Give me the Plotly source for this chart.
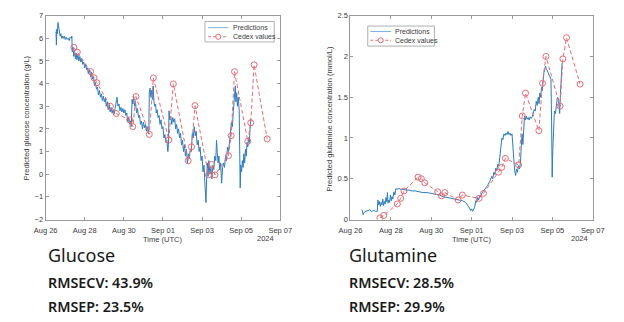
import pandas as pd
import plotly.graph_objects as go

BASE = pd.Timestamp("2024-08-26")

# ---------------- Glucose (g/L) ----------------
glc_pred_day = [0.53, 0.55, 0.57, 0.60, 0.63, 0.66, 0.70, 0.74, 0.78, 0.82, 0.86, 0.90, 0.95, 1.00, 1.05, 1.10,
                1.15, 1.20, 1.25, 1.30, 1.34, 1.36, 1.40, 1.44, 1.48, 1.52, 1.56, 1.60, 1.65, 1.70, 1.75, 1.80,
                1.85, 1.90, 1.95, 2.00, 2.05, 2.10, 2.15, 2.20, 2.25, 2.30, 2.35, 2.40, 2.45, 2.50, 2.55, 2.60,
                2.65, 2.70, 2.75, 2.80, 2.85, 2.90, 2.95, 3.00, 3.05, 3.10, 3.15, 3.20, 3.25, 3.30, 3.35, 3.40,
                3.45, 3.50, 3.55, 3.60, 3.65, 3.70, 3.75, 3.80, 3.85, 3.90, 3.95, 4.00, 4.05, 4.10, 4.15, 4.20,
                4.25, 4.30, 4.35, 4.38, 4.42, 4.46, 4.50, 4.55, 4.60, 4.65, 4.70, 4.75, 4.80, 4.85, 4.90, 4.95,
                5.00, 5.05, 5.10, 5.15, 5.20, 5.25, 5.28, 5.30, 5.34, 5.38, 5.42, 5.46, 5.50, 5.54, 5.58, 5.62,
                5.66, 5.70, 5.75, 5.80, 5.85, 5.90, 5.95, 6.00, 6.05, 6.10, 6.15, 6.20, 6.25, 6.28, 6.31, 6.35,
                6.40, 6.45, 6.50, 6.55, 6.60, 6.65, 6.70, 6.75, 6.80, 6.85, 6.90, 6.95, 7.00, 7.05, 7.10, 7.15,
                7.20, 7.25, 7.30, 7.35, 7.40, 7.45, 7.50, 7.55, 7.60, 7.65, 7.70, 7.75, 7.80, 7.85, 7.90, 7.95,
                8.00, 8.05, 8.10, 8.15, 8.20, 8.23, 8.27, 8.31, 8.35, 8.40, 8.45, 8.50, 8.55, 8.60, 8.65, 8.70,
                8.74, 8.78, 8.82, 8.86, 8.90, 8.95, 9.00, 9.05, 9.10, 9.15, 9.20, 9.25, 9.30, 9.35, 9.40, 9.45,
                9.50, 9.55, 9.60, 9.65, 9.70, 9.73, 9.77, 9.81, 9.85, 9.90, 9.93, 9.95, 9.98, 10.02, 10.06, 10.10,
                10.14, 10.18, 10.22, 10.26, 10.30, 10.34, 10.38, 10.42, 10.46, 10.49]
glc_pred_val = [6.3, 5.7, 6.4, 6.2, 6.7, 6.5, 6.3, 6.1, 6.2, 6.0, 6.1, 6.0, 6.1, 5.95, 6.05, 5.95,
                6.0, 5.9, 6.05, 6.0, 6.1, 5.4, 5.6, 5.2, 5.45, 5.1, 5.35, 5.05, 5.3, 5.0, 5.2, 4.95,
                5.1, 4.85, 4.95, 4.7, 4.85, 4.6, 4.7, 4.45, 4.6, 4.3, 4.5, 4.2, 4.3, 3.9, 4.05, 3.75,
                3.85, 3.5, 3.7, 3.4, 3.55, 3.25, 3.45, 3.2, 3.35, 3.0, 3.2, 2.85, 3.05, 2.75, 2.95, 2.7,
                2.85, 2.65, 2.9, 3.2, 3.4, 3.0, 3.1, 2.8, 2.95, 2.75, 2.9, 2.7, 2.85, 2.6, 2.7, 2.3,
                2.5, 2.2, 2.35, 2.1, 3.3, 3.1, 3.45, 3.0, 3.15, 2.7, 2.9, 2.5, 2.6, 2.2, 2.35, 2.0,
                2.3, 2.05, 2.2, 1.9, 2.1, 1.8, 2.0, 3.6, 3.8, 3.4, 3.7, 3.3, 3.9, 3.2, 3.0, 3.1,
                2.7, 2.85, 2.5, 2.6, 2.2, 2.4, 2.0, 2.1, 1.6, 1.75, 1.4, 1.5, 1.0, 1.3, 2.8, 2.4,
                2.55, 2.2, 2.5, 2.3, 2.45, 2.0, 2.2, 1.8, 2.0, 1.6, 1.8, 1.3, 1.5, 1.0, 1.3, 0.8,
                1.1, 0.5, 0.9, 0.7, 1.1, 1.0, 1.8, 1.6, 2.1, 1.7, 1.9, 1.3, 1.5, 1.0, 1.2, 0.6,
                0.8, 0.1, 0.4, -0.5, -1.25, -0.3, 0.5, -0.1, 0.6, 0.0, 0.3, -0.2, 0.4, 0.2, 0.8, 0.6,
                1.5, 0.9, 0.5, 0.8, 0.2, 0.5, -0.4, 0.3, 0.5, 0.3, 0.8, 0.6, 1.2, 1.0, 1.6, 1.8,
                2.3, 2.1, 2.8, 3.4, 3.9, 3.2, 3.6, 3.0, 3.4, 2.8, 1.0, -0.6, 0.4, 0.1, 0.6, 0.3,
                0.9, 0.5, 1.1, 0.8, 1.4, 1.2, 1.6, 1.4, 2.1, 2.45]
glc_cedex_day = [1.44, 1.62, 2.30, 2.47, 2.62, 3.31, 3.61, 4.30, 4.46, 4.62, 5.30, 5.51, 6.30, 6.53,
                 7.29, 7.46, 7.64, 8.33, 8.49, 8.66, 9.35, 9.49, 9.66, 10.34, 10.49, 10.66, 11.33]
glc_cedex_val = [5.60, 5.39, 4.53, 4.26, 4.04, 3.00, 2.68, 2.40, 2.10, 3.43, 1.76, 4.25, 1.51, 3.99,
                 0.59, 1.21, 3.03, -0.03, 0.43, -0.03, 0.82, 1.70, 4.53, 1.45, 2.27, 4.83, 1.56]

# ---------------- Glutamine (mmol/L) ----------------
gln_pred_day = [0.57, 0.60, 0.63, 0.68, 0.75, 0.85, 0.95, 1.05, 1.15, 1.25, 1.33, 1.36, 1.40, 1.44, 1.48, 1.52,
                1.56, 1.60, 1.64, 1.68, 1.72, 1.76, 1.80, 1.83, 1.86, 1.90, 1.94, 1.98, 2.02, 2.06, 2.10, 2.15,
                2.20, 2.25, 2.30, 2.40, 2.50, 2.60, 2.75, 2.90, 3.05, 3.20, 3.40, 3.60, 3.80, 4.00, 4.20, 4.40,
                4.60, 4.80, 5.00, 5.20, 5.40, 5.55, 5.70, 5.80, 5.90, 5.95, 6.00, 6.05, 6.10, 6.15, 6.20, 6.25,
                6.30, 6.35, 6.40, 6.45, 6.50, 6.60, 6.70, 6.80, 6.90, 7.00, 7.05, 7.10, 7.15, 7.20, 7.25, 7.30,
                7.35, 7.40, 7.45, 7.50, 7.55, 7.60, 7.65, 7.70, 7.75, 7.80, 7.85, 7.90, 7.95, 8.00, 8.03, 8.08,
                8.13, 8.18, 8.22, 8.27, 8.32, 8.37, 8.42, 8.46, 8.50, 8.54, 8.58, 8.62, 8.66, 8.70, 8.75, 8.80,
                8.85, 8.90, 8.95, 9.00, 9.05, 9.10, 9.15, 9.20, 9.25, 9.30, 9.34, 9.38, 9.42, 9.46, 9.50, 9.54,
                9.58, 9.62, 9.66, 9.70, 9.75, 9.80, 9.85, 9.88, 9.93, 9.96, 9.99, 10.02, 10.06, 10.10, 10.15,
                10.20, 10.25, 10.30, 10.33, 10.36, 10.40, 10.44, 10.48]
gln_pred_val = [0.12, 0.10, 0.06, 0.09, 0.10, 0.11, 0.12, 0.10, 0.11, 0.10, 0.10, 0.24, 0.18, 0.22, 0.16, 0.21,
                0.18, 0.25, 0.17, 0.22, 0.19, 0.27, 0.22, 0.33, 0.20, 0.24, 0.21, 0.30, 0.23, 0.28, 0.25, 0.34,
                0.30, 0.38, 0.37, 0.38, 0.37, 0.37, 0.36, 0.36, 0.35, 0.35, 0.34, 0.33, 0.33, 0.32, 0.31, 0.30,
                0.28, 0.27, 0.26, 0.25, 0.24, 0.23, 0.21, 0.18, 0.14, 0.11, 0.13, 0.10, 0.12, 0.15, 0.23, 0.21,
                0.27, 0.24, 0.30, 0.28, 0.32, 0.35, 0.38, 0.42, 0.47, 0.53, 0.50, 0.58, 0.55, 0.63, 0.60, 0.68,
                0.66, 0.78, 0.85, 1.00, 0.98, 1.05, 1.03, 1.06, 1.04, 1.08, 1.04, 1.06, 1.03, 1.05, 0.95, 0.70,
                0.60, 0.54, 0.62, 0.58, 0.66, 0.62, 0.70, 0.90, 1.05, 0.92, 1.20, 1.27, 1.22, 1.27, 1.23, 1.25,
                1.22, 1.26, 1.24, 1.26, 1.30, 1.35, 1.33, 1.45, 1.40, 1.50, 1.42, 1.55, 1.50, 1.62, 1.58, 1.72,
                1.80, 1.84, 1.88, 1.85, 1.82, 1.78, 1.76, 1.75, 1.72, 1.20, 0.52, 0.85, 1.20, 1.33, 1.30,
                1.42, 1.50, 1.48, 1.35, 1.30, 1.55, 1.75, 1.92]
gln_cedex_day = [1.46, 1.65, 2.32, 2.49, 2.65, 3.35, 3.51, 3.68, 4.32, 4.51, 4.67, 5.33, 5.54, 6.37,
                 6.59, 7.33, 7.49, 7.67, 8.33, 8.51, 8.67, 9.33, 9.51, 9.68, 10.38, 10.52, 10.70, 11.37]
gln_cedex_val = [0.02, 0.05, 0.19, 0.26, 0.35, 0.52, 0.50, 0.45, 0.34, 0.29, 0.33, 0.24, 0.30, 0.26,
                 0.32, 0.58, 0.64, 0.75, 0.67, 1.27, 1.55, 1.09, 1.67, 2.00, 1.39, 1.97, 2.23, 1.66]

x_tick_days = [0, 2, 4, 6, 8, 10, 12]
glc_yticks = [-2, -1, 0, 1, 2, 3, 4, 5, 6, 7]
gln_yticks = [0, 0.5, 1, 1.5, 2, 2.5]
gln_ytick_text = ["0", "0.5", "1", "1.5", "2", "2.5"]
legend_labels = ["Predictions", "Cedex values"]
panel_names = ["Glucose", "Glutamine"]
rmsecv = ["RMSECV: 43.9%", "RMSECV: 28.5%"]
rmsep = ["RMSEP: 23.5%", "RMSEP: 29.9%"]


def to_time(days):
    return [BASE + pd.Timedelta(days=d) for d in days]


W, H = 624, 322
PRED_COLOR = "#2b7cc0"
PRED_LEG_COLOR = "#7fb2dc"
CEDEX_COLOR = "#e46c74"
AX_COLOR = "#9a9a9a"
TXT_COLOR = "#3a3a3a"
TICK_FONT = dict(family="Liberation Sans, Arial", size=7.5, color=TXT_COLOR)
DASH = "4px,2.5px"

fig = go.Figure()

fig.add_trace(go.Scatter(x=to_time(glc_pred_day), y=glc_pred_val, mode="lines", name=legend_labels[0],
                         line=dict(color=PRED_COLOR, width=1), xaxis="x", yaxis="y", showlegend=False))
fig.add_trace(go.Scatter(x=to_time(glc_cedex_day), y=glc_cedex_val, mode="lines+markers", name=legend_labels[1],
                         line=dict(color=CEDEX_COLOR, width=1, dash=DASH),
                         marker=dict(symbol="circle-open", size=6, color=CEDEX_COLOR, line=dict(width=1)),
                         xaxis="x", yaxis="y", showlegend=False))
fig.add_trace(go.Scatter(x=to_time(gln_pred_day), y=gln_pred_val, mode="lines", name=legend_labels[0],
                         line=dict(color=PRED_COLOR, width=1), xaxis="x2", yaxis="y2", showlegend=False))
fig.add_trace(go.Scatter(x=to_time(gln_cedex_day), y=gln_cedex_val, mode="lines+markers", name=legend_labels[1],
                         line=dict(color=CEDEX_COLOR, width=1, dash=DASH),
                         marker=dict(symbol="circle-open", size=6, color=CEDEX_COLOR, line=dict(width=1)),
                         xaxis="x2", yaxis="y2", showlegend=False))

x_left = (35, 279)
x_right = (352, 604)
y_top, y_bot = 12.0, 221.7


def px_x(p):
    return p / W


def px_y(p):
    return (H - p) / H


xtickvals = to_time(x_tick_days)
common_x = dict(type="date", range=[xtickvals[0], xtickvals[-1]], tickvals=xtickvals, tickformat="%b %d",
                showline=True, linecolor=AX_COLOR, linewidth=1, mirror="ticks", ticks="inside", ticklen=3,
                tickcolor=AX_COLOR, tickfont=TICK_FONT, showgrid=False, zeroline=False, ticklabelstandoff=3)
common_y = dict(showline=True, linecolor=AX_COLOR, linewidth=1, mirror="ticks", ticks="inside", ticklen=3,
                tickcolor=AX_COLOR, tickfont=TICK_FONT, showgrid=False, zeroline=False)

fig.update_layout(
    width=W, height=H, margin=dict(l=0, r=0, t=0, b=0),
    paper_bgcolor="white", plot_bgcolor="white", showlegend=False,
    xaxis=dict(common_x, domain=[px_x(x_left[0]), px_x(x_left[1])], anchor="y"),
    yaxis=dict(common_y, domain=[px_y(y_bot), px_y(y_top)], range=[-2, 7], tickvals=glc_yticks, anchor="x"),
    xaxis2=dict(common_x, domain=[px_x(x_right[0]), px_x(x_right[1])], anchor="y2"),
    yaxis2=dict(common_y, domain=[px_y(y_bot), px_y(y_top)], range=[0, 2.5], tickvals=gln_yticks,
                ticktext=gln_ytick_text, anchor="x2"),
)

ann = []
shapes = []
small = dict(family="Liberation Sans, Arial", size=7.5, color=TXT_COLOR)
leg_font = dict(family="Liberation Sans, Arial", size=7, color=TXT_COLOR)

# compact MATLAB-style legend boxes: (box x0, x1, y0, y1, row1 y, row2 y, sample x0, x1, text x)
legend_boxes = [(200.7, 272.7, 18.0, 39.0, 24.3, 33.7, 204.0, 225.0, 227.5),
                (370.0, 439.3, 22.7, 43.3, 28.3, 37.3, 372.7, 394.3, 396.0)]
for bx0, bx1, by0, by1, r1, r2, sx0, sx1, tx in legend_boxes:
    shapes.append(dict(type="rect", xref="paper", yref="paper", x0=px_x(bx0), x1=px_x(bx1),
                       y0=px_y(by1), y1=px_y(by0), line=dict(color=AX_COLOR, width=0.8), fillcolor="white",
                       layer="above"))
    shapes.append(dict(type="line", xref="paper", yref="paper", x0=px_x(sx0), x1=px_x(sx1), y0=px_y(r1),
                       y1=px_y(r1), line=dict(color=PRED_LEG_COLOR, width=1), layer="above"))
    shapes.append(dict(type="line", xref="paper", yref="paper", x0=px_x(sx0), x1=px_x(sx1), y0=px_y(r2),
                       y1=px_y(r2), line=dict(color=CEDEX_COLOR, width=1, dash="3px,2px"), layer="above"))
    cx = (sx0 + sx1) / 2
    shapes.append(dict(type="circle", xref="paper", yref="paper", x0=px_x(cx - 2.6), x1=px_x(cx + 2.6),
                       y0=px_y(r2 + 2.6), y1=px_y(r2 - 2.6), line=dict(color=CEDEX_COLOR, width=1),
                       fillcolor="white", layer="above"))
    for lbl, ry in zip(legend_labels, [r1, r2]):
        ann.append(dict(text=lbl, x=px_x(tx), y=px_y(ry), xref="paper", yref="paper", showarrow=False,
                        font=leg_font, xanchor="left", yanchor="middle"))

ann.append(dict(text="Predicted glucose concentration (g/L)", x=px_x(15), y=px_y(117), textangle=-90,
                xref="paper", yref="paper", showarrow=False, font=small, xanchor="center", yanchor="middle"))
ann.append(dict(text="Predicted glutamine concentration (mmol/L)", x=px_x(330), y=px_y(117.5), textangle=-90,
                xref="paper", yref="paper", showarrow=False, font=small, xanchor="center", yanchor="middle"))
for cx, yx in [(157, 264), (478, 590)]:
    ann.append(dict(text="Time (UTC)", x=px_x(cx), y=px_y(242), xref="paper", yref="paper", showarrow=False,
                    font=small, xanchor="center", yanchor="middle"))
    ann.append(dict(text="2024", x=px_x(yx), y=px_y(241.5), xref="paper", yref="paper", showarrow=False,
                    font=small, xanchor="center", yanchor="middle"))
for i, lx in enumerate([35, 348]):
    ann.append(dict(text=panel_names[i], x=px_x(lx), y=px_y(258), xref="paper", yref="paper", showarrow=False,
                    font=dict(family="Noto Sans", size=18, color="#1a1a1a"), xanchor="left", yanchor="middle"))
    ann.append(dict(text=rmsecv[i], x=px_x(lx), y=px_y(286.7), xref="paper", yref="paper", showarrow=False,
                    font=dict(family="Noto Sans", size=14.3, color="#1a1a1a", weight=600),
                    xanchor="left", yanchor="middle"))
    ann.append(dict(text=rmsep[i], x=px_x(lx), y=px_y(310.7), xref="paper", yref="paper", showarrow=False,
                    font=dict(family="Noto Sans", size=14.3, color="#1a1a1a", weight=600),
                    xanchor="left", yanchor="middle"))
fig.update_layout(annotations=ann, shapes=shapes)

fig.write_html("out.html")
